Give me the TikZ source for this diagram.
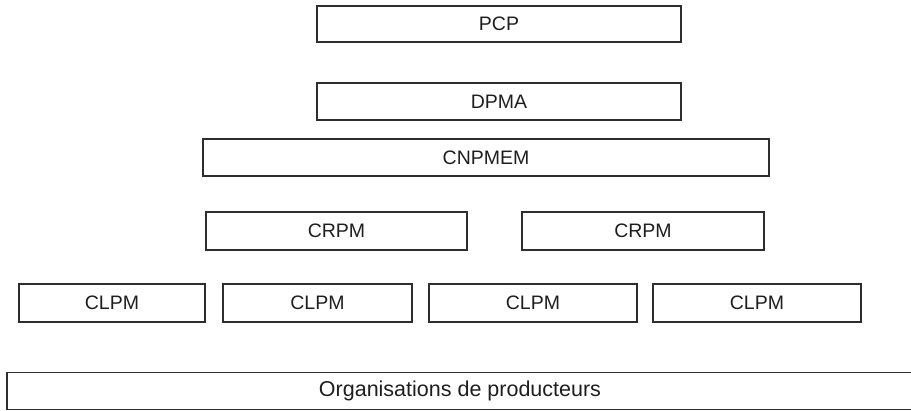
\documentclass[tikz,border=0pt]{standalone}
\usepackage{fontspec}
\setmainfont{Liberation Sans}
\usetikzlibrary{positioning}
\definecolor{boxline}{HTML}{2E2E2E}
\definecolor{boxtext}{HTML}{1E1E1E}
\tikzset{orgbox/.style={draw=boxline,line width=1.3pt,rectangle,inner sep=0pt,text=boxtext,font=\fontsize{19.5}{22}\selectfont}  }
\tikzset{wbox/.style={orgbox,minimum width=364pt,minimum height=36pt}  }

\begin{document}
\begin{tikzpicture}[x=1pt,y=-1pt]
	\useasboundingbox (0,0) rectangle (911,411);
		\node[wbox] (pcp) at (499,24) {PCP};
		\node[wbox,minimum height=37pt] (dpma) at (499,101.5) {DPMA};
		\node[orgbox,minimum width=566pt,minimum height=37pt] (cnpmem) at (486,157.5) {CNPMEM};

		\node[orgbox,minimum width=261pt,minimum height=38pt] (crpm1) at (336.5,231) {CRPM};
		\node[orgbox,minimum width=242pt,minimum height=38pt] (crpm2) at (643,231) {CRPM};

		\node[orgbox,minimum width=186pt,minimum height=38pt] (clpm1) at (112,303) {CLPM};
		\node[orgbox,minimum width=189pt,minimum height=38pt] (clpm2) at (317.5,303) {CLPM};
		\node[orgbox,minimum width=208pt,minimum height=38pt] (clpm3) at (533,303) {CLPM};
		\node[orgbox,minimum width=208pt,minimum height=38pt] (clpm4) at (757,303) {CLPM};

		\node[orgbox,minimum width=906pt,minimum height=37pt,font=\fontsize{21.5}{24}\selectfont] (op) at (460,391) {Organisations de producteurs};
\end{tikzpicture}
\end{document}
